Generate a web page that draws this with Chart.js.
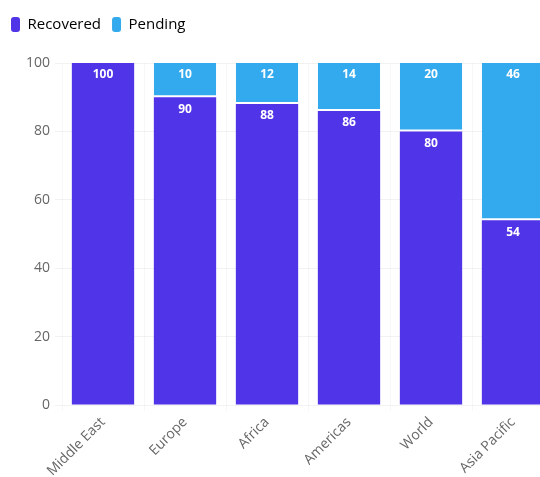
<!DOCTYPE html>
<html>
<head>
<meta charset="utf-8">
<title>Recovery by region</title>
<script src="https://cdn.jsdelivr.net/npm/chart.js@4.4.1/dist/chart.umd.min.js"></script>
<style>
    html, body { margin: 0; padding: 0; background: #fff; overflow: hidden; }
    #wrap { width: 554px; height: 477px; }
</style>
</head>
<body>
<div id="wrap"><canvas id="recoveryChart"></canvas></div>
<script>
// Regions and stacked shares (percent)
const regions = ['Middle East', 'Europe', 'Africa', 'Americas', 'World', 'Asia Pacific'];
const recovered = [100, 90, 88, 86, 80, 54];
const pending = [0, 10, 12, 14, 20, 46];
const yTicks = [0, 20, 40, 60, 80, 100];

const PURPLE = '#5035E8';
const SKY = '#33A9EE';

/**
 * Writes each segment's value just under its top edge
 */
const segmentLabels = {
    id: 'segmentLabels',
    afterDatasetsDraw(chart) {
        const ctx = chart.ctx;
        ctx.save();
        ctx.fillStyle = '#fff';
        ctx.font = 'bold 12px "Open Sans"';
        ctx.textAlign = 'center';
        ctx.textBaseline = 'middle';
        chart.data.datasets.forEach((ds, i) => {
            chart.getDatasetMeta(i).data.forEach((bar, j) => {
                const v = ds.data[j];
                if (!v) return;
                ctx.fillText(String(v), bar.x, bar.y + 12);
            });
        });
        ctx.restore();
    }
};

/**
 * Leaves some room between the legend and the plot
 */
const legendSpacer = {
    id: 'legendSpacer',
    beforeInit(chart) {
        const fit = chart.legend.fit;
        chart.legend.fit = function () {
            fit.bind(chart.legend)();
            this.height += 21;
        };
    }
};

Chart.defaults.font.family = '"Open Sans", sans-serif';
Chart.defaults.color = '#666';

const ctx = document.getElementById('recoveryChart').getContext('2d');
new Chart(ctx, {
    type: 'bar',
    data: {
        labels: regions,
        datasets: [
            {
                label: 'Recovered',
                data: recovered,
                backgroundColor: PURPLE,
                borderWidth: 0
            },
            {
                label: 'Pending',
                data: pending,
                backgroundColor: SKY,
                borderColor: '#fff',
                borderWidth: { top: 0, left: 0, right: 0, bottom: 2 },
                borderSkipped: false
            }
        ]
    },
    options: {
        responsive: true,
        maintainAspectRatio: false,
        animation: false,
        datasets: {
            bar: { categoryPercentage: 0.76, barPercentage: 1 }
        },
        layout: { padding: { left: 0, right: 0, top: 6, bottom: 0 } },
        plugins: {
            legend: {
                position: 'top',
                align: 'start',
                labels: {
                    boxWidth: 9,
                    boxHeight: 15,
                    padding: 11,
                    color: '#555',
                    font: { size: 15 },
                    generateLabels(chart) {
                        return chart.data.datasets.map((ds, i) => ({
                            text: ds.label,
                            fillStyle: ds.backgroundColor,
                            strokeStyle: ds.backgroundColor,
                            lineWidth: 0,
                            borderRadius: 3,
                            datasetIndex: i
                        }));
                    }
                }
            },
            tooltip: { enabled: false }
        },
        scales: {
            x: {
                stacked: true,
                afterFit(axis) { axis.height = 72; },
                grid: { color: 'rgba(0, 0, 0, 0.03)', tickLength: 6 },
                border: { display: false },
                ticks: {
                    minRotation: 45,
                    maxRotation: 45,
                    font: { size: 14 },
                    color: '#666'
                }
            },
            y: {
                stacked: true,
                min: 0,
                max: 100,
                afterFit(axis) { axis.width = 62; },
                afterBuildTicks(axis) {
                    axis.ticks = yTicks.map(v => ({ value: v }));
                },
                grid: { color: 'rgba(0, 0, 0, 0.05)', tickLength: 7 },
                border: { display: false },
                ticks: { font: { size: 14 }, color: '#666', padding: 5 }
            }
        }
    },
    plugins: [segmentLabels, legendSpacer]
});
</script>
</body>
</html>
